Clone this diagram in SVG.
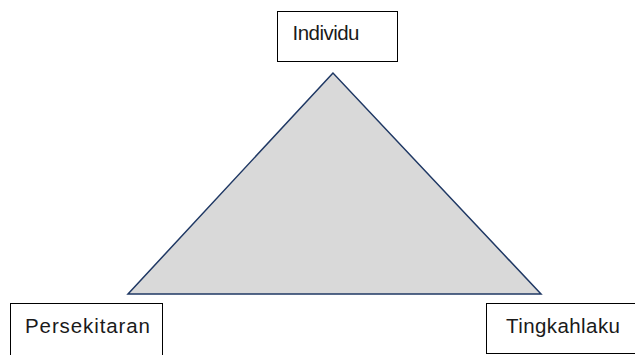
<svg xmlns="http://www.w3.org/2000/svg" width="635" height="355" viewBox="0 0 635 355">
<style>
.box{fill:#fff;stroke:#000;stroke-width:1}
.lbl{font-family:"Liberation Sans",Arial,sans-serif;font-size:20.5px;fill:#1a1a1a}
.tri{fill:#d9d9d9;stroke:#1f3864;stroke-width:1.5}
</style>
<rect width="635" height="355" fill="#fff"/>
<g id="connectors">
<polygon class="tri" points="333,73 128,294 541,294"/>
</g>
<g id="individu">
<rect class="box" x="277.5" y="11.5" width="120" height="50"/>
<text class="lbl" x="292.5" y="39.5" textLength="67" lengthAdjust="spacing">Individu</text>
</g>
<g id="persekitaran">
<rect class="box" x="10.5" y="303.5" width="152" height="60"/>
<text class="lbl" x="25" y="333" textLength="125" lengthAdjust="spacing">Persekitaran</text>
</g>
<g id="tingkahlaku">
<rect class="box" x="486.5" y="303.5" width="152" height="50"/>
<text class="lbl" x="506" y="333" textLength="114" lengthAdjust="spacing">Tingkahlaku</text>
</g>
</svg>
